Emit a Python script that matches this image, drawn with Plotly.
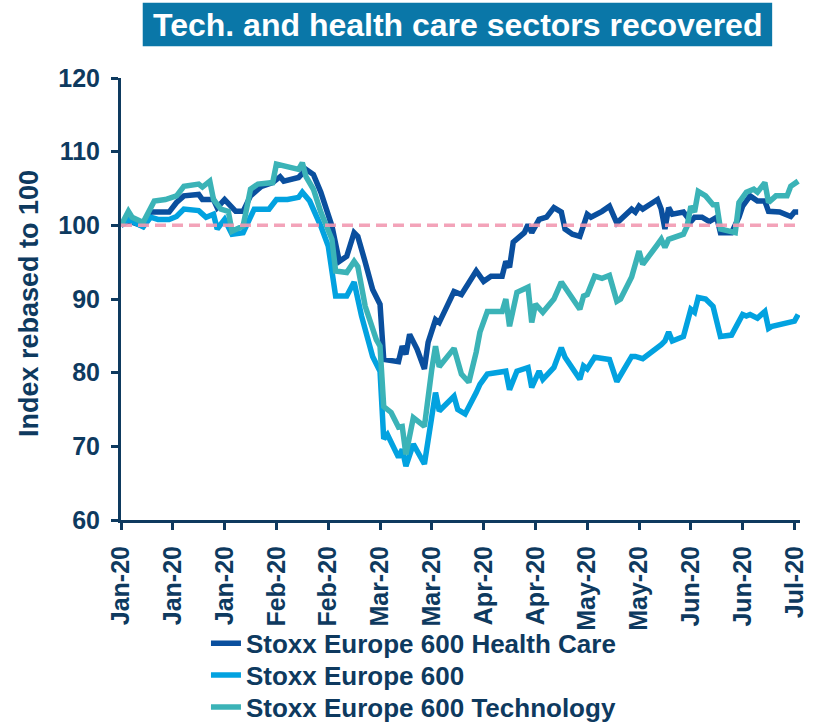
import plotly.graph_objects as go

# ---------------- data ----------------
hc_dates = ["2020-01-01","2020-01-03","2020-01-07","2020-01-09","2020-01-14","2020-01-16","2020-01-18",
            "2020-01-22","2020-01-23","2020-01-26","2020-01-27","2020-01-29","2020-02-01","2020-02-03",
            "2020-02-05","2020-02-08","2020-02-11","2020-02-13","2020-02-14","2020-02-18","2020-02-20",
            "2020-02-22","2020-02-24","2020-02-26","2020-02-27","2020-02-29","2020-03-02","2020-03-04",
            "2020-03-05","2020-03-07","2020-03-09","2020-03-11","2020-03-12","2020-03-16","2020-03-17",
            "2020-03-18","2020-03-19","2020-03-21","2020-03-23","2020-03-24","2020-03-26","2020-03-27",
            "2020-03-29","2020-03-31","2020-04-02","2020-04-06","2020-04-08","2020-04-10","2020-04-13",
            "2020-04-14","2020-04-15","2020-04-16","2020-04-19","2020-04-20","2020-04-21","2020-04-23",
            "2020-04-25","2020-04-27","2020-04-29","2020-04-30","2020-05-02","2020-05-04","2020-05-06",
            "2020-05-07","2020-05-10","2020-05-12","2020-05-14","2020-05-18","2020-05-19","2020-05-20",
            "2020-05-21","2020-05-25","2020-05-26","2020-05-27","2020-05-28","2020-05-29","2020-06-01",
            "2020-06-03","2020-06-04","2020-06-06","2020-06-08","2020-06-10","2020-06-11","2020-06-14",
            "2020-06-16","2020-06-17","2020-06-19","2020-06-21","2020-06-23","2020-06-24","2020-06-27",
            "2020-06-30","2020-07-01","2020-07-02"]
hc_values = [100.0,100.6,99.9,101.8,101.8,103.1,104.0,
             104.2,103.5,103.5,102.4,103.5,101.9,101.9,
             104.0,105.3,105.8,106.6,106.0,106.5,107.6,
             106.9,104.5,101.5,99.9,95.1,95.8,99.0,
             98.5,95.0,91.3,89.3,81.8,81.5,83.6,
             82.5,85.2,83.2,80.5,84.1,87.2,86.8,
             89.0,91.0,90.6,93.8,92.4,93.1,93.1,
             95.1,94.3,97.7,99.0,100.1,99.0,100.8,
             101.1,102.4,101.8,99.5,98.8,98.5,101.5,
             101.1,101.9,102.6,100.3,102.2,101.8,102.6,
             102.2,103.5,102.2,99.5,102.4,101.5,101.8,
             100.5,101.1,101.1,100.5,101.1,99.0,99.0,
             101.1,102.6,104.0,103.3,103.3,101.9,101.8,
             101.2,101.8,101.8]

sx_dates = ["2020-01-01","2020-01-03","2020-01-07","2020-01-09","2020-01-11","2020-01-14","2020-01-16",
            "2020-01-18","2020-01-22","2020-01-24","2020-01-26","2020-01-27","2020-01-29","2020-01-31",
            "2020-02-03","2020-02-06","2020-02-10","2020-02-12","2020-02-15","2020-02-18","2020-02-19",
            "2020-02-21","2020-02-24","2020-02-26","2020-02-28","2020-03-02","2020-03-04","2020-03-06",
            "2020-03-09","2020-03-11","2020-03-12","2020-03-13","2020-03-16","2020-03-17","2020-03-18",
            "2020-03-20","2020-03-23","2020-03-25","2020-03-26","2020-03-27","2020-03-31","2020-04-01",
            "2020-04-03","2020-04-06","2020-04-07","2020-04-09","2020-04-14","2020-04-15","2020-04-17",
            "2020-04-20","2020-04-21","2020-04-23","2020-04-24","2020-04-27","2020-04-29","2020-04-30",
            "2020-05-04","2020-05-05","2020-05-06","2020-05-08","2020-05-12","2020-05-14","2020-05-18",
            "2020-05-19","2020-05-21","2020-05-26","2020-05-27","2020-05-28","2020-05-29","2020-06-01",
            "2020-06-03","2020-06-04","2020-06-05","2020-06-07","2020-06-09","2020-06-11","2020-06-14",
            "2020-06-17","2020-06-18","2020-06-19","2020-06-21","2020-06-23","2020-06-24","2020-06-25",
            "2020-07-01","2020-07-02"]
sx_values = [100.0,100.8,99.8,101.1,100.8,100.8,101.2,
             102.2,102.0,101.1,101.5,99.5,100.8,98.8,
             99.0,102.2,102.2,103.5,103.5,103.8,104.5,
             103.3,99.9,97.2,90.4,90.4,92.3,87.7,
             82.2,80.2,71.0,71.6,68.5,69.6,67.3,
             70.3,67.6,74.6,77.3,74.8,76.8,75.0,
             74.4,77.3,78.4,79.8,80.2,77.7,80.2,
             80.7,78.0,80.2,79.1,80.7,83.4,82.1,
             79.1,80.9,80.5,82.1,81.8,78.8,82.2,
             82.2,81.9,83.8,84.3,85.5,84.3,84.9,
             88.6,88.2,90.2,90.0,89.0,84.9,85.1,
             87.9,87.7,87.9,87.4,88.3,86.0,86.3,
             87.0,87.9]

tc_dates = ["2020-01-01","2020-01-03","2020-01-04","2020-01-07","2020-01-10","2020-01-13","2020-01-16",
            "2020-01-18","2020-01-22","2020-01-23","2020-01-25","2020-01-26","2020-01-28","2020-01-30",
            "2020-01-31","2020-02-03","2020-02-05","2020-02-07","2020-02-11","2020-02-12","2020-02-18",
            "2020-02-19","2020-02-20","2020-02-22","2020-02-24","2020-02-27","2020-02-28","2020-03-02",
            "2020-03-04","2020-03-05","2020-03-07","2020-03-10","2020-03-11","2020-03-12","2020-03-14",
            "2020-03-16","2020-03-17","2020-03-18","2020-03-20","2020-03-23","2020-03-25","2020-03-26",
            "2020-03-27","2020-03-31","2020-04-02","2020-04-04","2020-04-06","2020-04-07","2020-04-09",
            "2020-04-13","2020-04-14","2020-04-15","2020-04-17","2020-04-20","2020-04-21","2020-04-22",
            "2020-04-24","2020-04-27","2020-04-29","2020-04-30","2020-05-04","2020-05-05","2020-05-06",
            "2020-05-08","2020-05-10","2020-05-12","2020-05-14","2020-05-15","2020-05-18","2020-05-20",
            "2020-05-21","2020-05-25","2020-05-26","2020-05-27","2020-05-28","2020-06-01","2020-06-02",
            "2020-06-03","2020-06-04","2020-06-05","2020-06-07","2020-06-09","2020-06-10","2020-06-11",
            "2020-06-15","2020-06-16","2020-06-18","2020-06-20","2020-06-21","2020-06-23","2020-06-24",
            "2020-06-26","2020-06-29","2020-06-30","2020-07-01","2020-07-02"]
tc_values = [100.0,101.9,101.1,100.4,103.3,103.5,104.0,
             105.3,105.6,105.2,106.0,103.5,102.2,101.9,
             99.2,99.9,104.9,105.6,105.8,108.3,107.6,
             108.5,106.6,104.9,101.8,98.1,93.8,93.6,
             95.1,94.4,89.0,84.5,83.6,75.4,74.6,
             72.6,72.7,68.9,73.9,72.7,80.5,83.6,
             80.8,83.3,79.8,78.7,82.8,85.5,88.3,
             88.3,90.0,86.3,90.9,91.6,86.8,89.3,
             88.2,90.0,92.3,91.6,88.6,90.4,90.6,
             93.1,92.8,93.2,89.7,90.0,93.0,96.5,
             94.7,97.4,98.1,97.0,98.1,98.8,99.9,
             102.6,101.8,104.6,104.0,102.8,102.8,99.5,
             99.0,103.1,104.5,104.9,104.5,105.8,103.1,
             104.0,104.0,105.3,105.6,106.0]

series_names = ["Stoxx Europe 600 Health Care", "Stoxx Europe 600", "Stoxx Europe 600 Technology"]
series_colors = ["#0a4f9e", "#02a2e0", "#3bb3b7"]
BASELINE = 100
title_text = "Tech. and health care sectors recovered"
y_title = "Index rebased to 100"

NAVY = "#0e3a5f"
FONT = "Liberation Sans, Arial, sans-serif"

legend_ids = ["legend", "legend2", "legend3"]
legend_tops = [0.1452, 0.1011, 0.0570]

fig = go.Figure()
for name, color, xs, ys, lg in zip(series_names, series_colors,
                                   [hc_dates, sx_dates, tc_dates],
                                   [hc_values, sx_values, tc_values], legend_ids):
    fig.add_trace(go.Scatter(x=xs, y=ys, mode="lines", name=name, legend=lg,
                             line=dict(color=color, width=5.5)))

fig.add_hline(y=BASELINE, line=dict(color="#f29ab2", width=3.5, dash="11px,6px"), opacity=0.9)

tick_font = dict(family=FONT, size=25, color=NAVY, weight="bold")
legend_font = dict(family=FONT, size=26, color=NAVY, weight="bold")

layout_legends = {}
for lg, top in zip(legend_ids, legend_tops):
    layout_legends[lg] = dict(xref="container", yref="container", x=0.2521, y=top,
                              xanchor="left", yanchor="top", orientation="v",
                              font=legend_font, bgcolor="rgba(0,0,0,0)")

fig.update_layout(
    width=817, height=725,
    margin=dict(l=121, r=17, t=78, b=205, autoexpand=False),
    paper_bgcolor="white", plot_bgcolor="white",
    font=dict(family=FONT, color=NAVY, size=20, weight="bold"),
    showlegend=True,
    xaxis=dict(type="date", range=["2020-01-01", "2020-07-02 12:00"],
               tick0="2020-01-01", dtick=14 * 86400000, tickformat="%b-%y",
               tickangle=-90, showgrid=False, zeroline=False, automargin=False,
               showline=True, linecolor=NAVY, linewidth=3,
               ticks="outside", ticklen=7, tickwidth=3, tickcolor=NAVY,
               ticklabelstandoff=6, tickfont=tick_font),
    yaxis=dict(range=[60, 120], dtick=10, tick0=60, showgrid=False, zeroline=False,
               automargin=False,
               showline=True, linecolor=NAVY, linewidth=3,
               ticks="outside", ticklen=7, tickwidth=3, tickcolor=NAVY,
               ticklabelstandoff=6, tickfont=tick_font),
    **layout_legends,
)

fig.add_annotation(text=y_title, xref="paper", yref="paper", x=-0.1355, y=0.491,
                   textangle=-90, showarrow=False, xanchor="center", yanchor="middle",
                   font=dict(family=FONT, size=27, color=NAVY, weight="bold"))

fig.add_shape(type="rect", xref="paper", yref="paper", x0=0.032, x1=0.959, y0=1.072, y1=1.170,
              fillcolor="#0a77a8", line=dict(width=0), layer="above")
fig.add_annotation(text=title_text, xref="paper", yref="paper", x=0.4955, y=1.121,
                   showarrow=False, xanchor="center", yanchor="middle",
                   font=dict(family=FONT, size=32, color="white", weight="bold"))

fig.write_html("out.html", config={"displayModeBar": False},
               post_script="document.body.style.margin='0';")
